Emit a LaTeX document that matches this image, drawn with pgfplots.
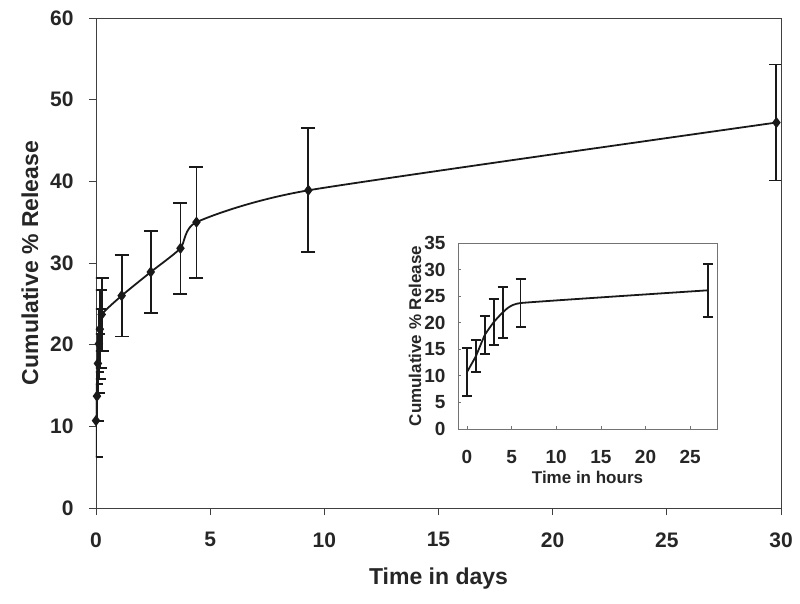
\documentclass[border=0pt]{standalone}
\usepackage{pgfplots}
\pgfplotsset{compat=1.18}
\usepackage{pgfplotstable}
\usepackage{fontspec}
\setmainfont{Liberation Sans}

\pgfplotstableread{
x y e
0 10.7 4.5
0.042 13.7 3.0
0.083 17.7 3.6
0.125 20.1 4.3
0.167 21.9 4.8
0.25 23.7 4.5
1.125 26.0 5.0
2.4 28.9 5.0
3.7 31.8 5.6
4.4 35.0 6.8
9.3 38.9 7.6
29.8 47.2 7.1
}\maindata

\pgfplotstableread{
x y e
0 10.7 4.5
1 13.7 3.0
2 17.7 3.6
3 20.1 4.3
4 21.9 4.8
6 23.7 4.5
27 26.1 5.0
}\insetdata

\pgfplotsset{
  errstyle/.style={draw=none, mark=none, forget plot,
    error bars/.cd, y dir=both, y explicit,
    error bar style={black!90, line width=1.9pt, solid},
    error mark options={black!90, line width=1.9pt, mark size=#1, rotate=90}},
}

\begin{document}
\begin{tikzpicture}
\useasboundingbox (-96bp,-96bp) rectangle (704bp,508bp);
\begin{axis}[
  at={(0,0)}, anchor=south west,
  scale only axis, width=685bp, height=490bp,
  xmin=0, xmax=30, ymin=0, ymax=60,
  xtick={0,5,...,30}, ytick={0,10,...,60},
  xtick pos=bottom, ytick pos=left,
  tick align=outside, major tick length=7bp,
  axis line style={black!75, line width=0.9pt},
  tick style={black!75, line width=0.9pt},
  /pgf/number format/assume math mode=true,
  ticklabel style={font=\bfseries\fontsize{21bp}{25bp}\selectfont, text=black!85},
  xticklabel style={yshift=-14bp},
  yticklabel style={xshift=-12bp},
  xlabel={Time in days}, ylabel={Cumulative \% Release},
  label style={font=\bfseries\fontsize{23bp}{27bp}\selectfont, text=black!85},
  xlabel style={at={(axis description cs:0.5,-0.143)}, anchor=center},
  ylabel style={at={(axis description cs:-0.0964,0.5)}, anchor=center},
]
\addplot[errstyle=7bp] table[x=x, y=y, y error=e] {\maindata};
\addplot[black!90, line width=1.8pt, smooth, tension=0.35,
  mark=diamond*, mark size=4.2bp, mark options={solid, fill=black!90}]
  table[x=x, y=y] {\maindata};
\end{axis}
\begin{axis}[
  at={(362bp,79bp)}, anchor=south west,
  scale only axis, width=259bp, height=186bp,
  xmin=-1, xmax=28, ymin=0, ymax=35,
  xtick={0,5,...,25}, ytick={0,5,...,35},
  xtick pos=bottom, ytick pos=left,
  tick align=inside, major tick length=3bp,
  axis background/.style={fill=white},
  axis line style={black!55, line width=0.8pt},
  tick style={black!55, line width=0.8pt},
  /pgf/number format/assume math mode=true,
  ticklabel style={font=\bfseries\fontsize{19bp}{22bp}\selectfont, text=black!85},
  xticklabel style={yshift=-18bp},
  yticklabel style={xshift=-9bp},
  xlabel={Time in hours}, ylabel={Cumulative \% Release},
  label style={font=\bfseries\fontsize{17bp}{20bp}\selectfont, text=black!85},
  xlabel style={at={(axis description cs:0.5,-0.263)}, anchor=center},
  ylabel style={at={(axis description cs:-0.166,0.5)}, anchor=center},
]
\addplot[errstyle=5bp] table[x=x, y=y, y error=e] {\insetdata};
\addplot[black!90, line width=1.8pt, smooth, tension=0.2, mark=none]
  table[x=x, y=y] {\insetdata};
\end{axis}
\end{tikzpicture}
\end{document}
